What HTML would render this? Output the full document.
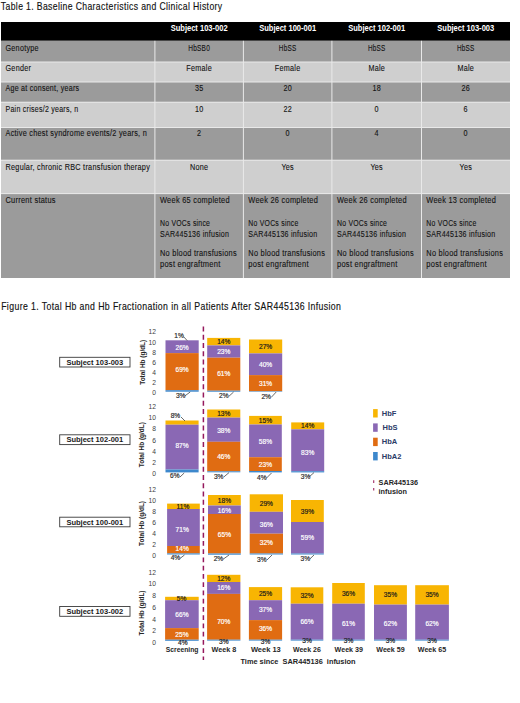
<!DOCTYPE html>
<html><head><meta charset="utf-8"><title>Table 1 and Figure 1</title>
<style>
html,body{margin:0;padding:0;background:#fff;}
body{width:520px;height:703px;overflow:hidden;position:relative;}
svg{position:absolute;left:0;top:0;display:block;font-family:"Liberation Sans", sans-serif;}
</style></head>
<body>
<svg width="520" height="703" viewBox="0 0 520 703">
<text x="0.8" y="9.8" font-size="10.3" fill="#111" text-anchor="start" font-weight="normal" textLength="221.7" lengthAdjust="spacingAndGlyphs" stroke="#111" stroke-width="0.15" letter-spacing="0.45">Table 1. Baseline Characteristics and Clinical History</text>
<text x="1.15" y="310.2" font-size="10.1" fill="#111" text-anchor="start" font-weight="normal" textLength="340.2" lengthAdjust="spacingAndGlyphs" stroke="#111" stroke-width="0.15" letter-spacing="0.45">Figure 1. Total Hb and Hb Fractionation in all Patients After SAR445136 Infusion</text>
<rect x="1.0" y="22" width="509.0" height="18.8" fill="#000"/>
<rect x="1.0" y="40.8" width="509.0" height="21.200000000000003" fill="#9b9b9b"/>
<rect x="1.0" y="62.0" width="509.0" height="20.0" fill="#cfcfcf"/>
<rect x="1.0" y="82.0" width="509.0" height="20.200000000000003" fill="#9b9b9b"/>
<rect x="1.0" y="102.2" width="509.0" height="25.299999999999997" fill="#cfcfcf"/>
<rect x="1.0" y="127.5" width="509.0" height="32.69999999999999" fill="#9b9b9b"/>
<rect x="1.0" y="160.2" width="509.0" height="33.400000000000006" fill="#cfcfcf"/>
<rect x="1.0" y="193.6" width="509.0" height="84.4" fill="#9b9b9b"/>
<rect x="1.0" y="61.5" width="509.0" height="1" fill="#e9e9e9"/>
<rect x="1.0" y="81.5" width="509.0" height="1" fill="#e9e9e9"/>
<rect x="1.0" y="101.7" width="509.0" height="1" fill="#e9e9e9"/>
<rect x="1.0" y="127.0" width="509.0" height="1" fill="#e9e9e9"/>
<rect x="1.0" y="159.7" width="509.0" height="1" fill="#e9e9e9"/>
<rect x="1.0" y="193.1" width="509.0" height="1" fill="#e9e9e9"/>
<rect x="154.4" y="40.8" width="1" height="237.2" fill="#e9e9e9"/>
<rect x="242.9" y="40.8" width="1" height="237.2" fill="#e9e9e9"/>
<rect x="331.4" y="40.8" width="1" height="237.2" fill="#e9e9e9"/>
<rect x="421.0" y="40.8" width="1" height="237.2" fill="#e9e9e9"/>
<text x="199.15" y="30.8" font-size="8.3" fill="#ffffff" text-anchor="middle" font-weight="bold" textLength="56.9" lengthAdjust="spacingAndGlyphs">Subject 103-002</text>
<text x="287.65" y="30.8" font-size="8.3" fill="#ffffff" text-anchor="middle" font-weight="bold" textLength="56.9" lengthAdjust="spacingAndGlyphs">Subject 100-001</text>
<text x="376.7" y="30.8" font-size="8.3" fill="#ffffff" text-anchor="middle" font-weight="bold" textLength="56.9" lengthAdjust="spacingAndGlyphs">Subject 102-001</text>
<text x="465.75" y="30.8" font-size="8.3" fill="#ffffff" text-anchor="middle" font-weight="bold" textLength="56.9" lengthAdjust="spacingAndGlyphs">Subject 103-003</text>
<text x="5.5" y="50.5" font-size="8.3" fill="#141414" text-anchor="start" font-weight="normal" textLength="33.29" lengthAdjust="spacingAndGlyphs" stroke="#141414" stroke-width="0.12" letter-spacing="0.3">Genotype</text>
<text x="5.5" y="70.7" font-size="8.3" fill="#141414" text-anchor="start" font-weight="normal" textLength="25.61" lengthAdjust="spacingAndGlyphs" stroke="#141414" stroke-width="0.12" letter-spacing="0.3">Gender</text>
<text x="5.5" y="90.7" font-size="8.3" fill="#141414" text-anchor="start" font-weight="normal" textLength="73.8" lengthAdjust="spacingAndGlyphs" stroke="#141414" stroke-width="0.12" letter-spacing="0.3">Age at consent, years</text>
<text x="5.5" y="111.5" font-size="8.3" fill="#141414" text-anchor="start" font-weight="normal" textLength="72.8" lengthAdjust="spacingAndGlyphs" stroke="#141414" stroke-width="0.12" letter-spacing="0.3">Pain crises/2 years, n</text>
<text x="5.5" y="136.2" font-size="8.3" fill="#141414" text-anchor="start" font-weight="normal" textLength="141.5" lengthAdjust="spacingAndGlyphs" stroke="#141414" stroke-width="0.12" letter-spacing="0.3">Active chest syndrome events/2 years, n</text>
<text x="5.5" y="169.7" font-size="8.3" fill="#141414" text-anchor="start" font-weight="normal" textLength="144.6" lengthAdjust="spacingAndGlyphs" stroke="#141414" stroke-width="0.12" letter-spacing="0.3">Regular, chronic RBC transfusion therapy</text>
<text x="5.5" y="203.0" font-size="8.3" fill="#141414" text-anchor="start" font-weight="normal" textLength="50.3" lengthAdjust="spacingAndGlyphs" stroke="#141414" stroke-width="0.12" letter-spacing="0.3">Current status</text>
<text x="199.15" y="50.5" font-size="8.3" fill="#141414" text-anchor="middle" font-weight="normal" textLength="21.8" lengthAdjust="spacingAndGlyphs" stroke="#141414" stroke-width="0.12" letter-spacing="0.3">HbSB0</text>
<text x="287.65" y="50.5" font-size="8.3" fill="#141414" text-anchor="middle" font-weight="normal" textLength="17.6" lengthAdjust="spacingAndGlyphs" stroke="#141414" stroke-width="0.12" letter-spacing="0.3">HbSS</text>
<text x="376.7" y="50.5" font-size="8.3" fill="#141414" text-anchor="middle" font-weight="normal" textLength="17.6" lengthAdjust="spacingAndGlyphs" stroke="#141414" stroke-width="0.12" letter-spacing="0.3">HbSS</text>
<text x="465.75" y="50.5" font-size="8.3" fill="#141414" text-anchor="middle" font-weight="normal" textLength="17.6" lengthAdjust="spacingAndGlyphs" stroke="#141414" stroke-width="0.12" letter-spacing="0.3">HbSS</text>
<text x="199.15" y="70.7" font-size="8.3" fill="#141414" text-anchor="middle" font-weight="normal" textLength="25.6" lengthAdjust="spacingAndGlyphs" stroke="#141414" stroke-width="0.12" letter-spacing="0.3">Female</text>
<text x="287.65" y="70.7" font-size="8.3" fill="#141414" text-anchor="middle" font-weight="normal" textLength="25.6" lengthAdjust="spacingAndGlyphs" stroke="#141414" stroke-width="0.12" letter-spacing="0.3">Female</text>
<text x="376.7" y="70.7" font-size="8.3" fill="#141414" text-anchor="middle" font-weight="normal" textLength="16.64" lengthAdjust="spacingAndGlyphs" stroke="#141414" stroke-width="0.12" letter-spacing="0.3">Male</text>
<text x="465.75" y="70.7" font-size="8.3" fill="#141414" text-anchor="middle" font-weight="normal" textLength="16.64" lengthAdjust="spacingAndGlyphs" stroke="#141414" stroke-width="0.12" letter-spacing="0.3">Male</text>
<text x="199.15" y="90.7" font-size="8.3" fill="#141414" text-anchor="middle" font-weight="normal" textLength="8.54" lengthAdjust="spacingAndGlyphs" stroke="#141414" stroke-width="0.12" letter-spacing="0.3">35</text>
<text x="287.65" y="90.7" font-size="8.3" fill="#141414" text-anchor="middle" font-weight="normal" textLength="8.54" lengthAdjust="spacingAndGlyphs" stroke="#141414" stroke-width="0.12" letter-spacing="0.3">20</text>
<text x="376.7" y="90.7" font-size="8.3" fill="#141414" text-anchor="middle" font-weight="normal" textLength="8.54" lengthAdjust="spacingAndGlyphs" stroke="#141414" stroke-width="0.12" letter-spacing="0.3">18</text>
<text x="465.75" y="90.7" font-size="8.3" fill="#141414" text-anchor="middle" font-weight="normal" textLength="8.54" lengthAdjust="spacingAndGlyphs" stroke="#141414" stroke-width="0.12" letter-spacing="0.3">26</text>
<text x="199.15" y="111.5" font-size="8.3" fill="#141414" text-anchor="middle" font-weight="normal" textLength="8.54" lengthAdjust="spacingAndGlyphs" stroke="#141414" stroke-width="0.12" letter-spacing="0.3">10</text>
<text x="287.65" y="111.5" font-size="8.3" fill="#141414" text-anchor="middle" font-weight="normal" textLength="8.54" lengthAdjust="spacingAndGlyphs" stroke="#141414" stroke-width="0.12" letter-spacing="0.3">22</text>
<text x="376.7" y="111.5" font-size="8.3" fill="#141414" text-anchor="middle" font-weight="normal" textLength="4.27" lengthAdjust="spacingAndGlyphs" stroke="#141414" stroke-width="0.12" letter-spacing="0.3">0</text>
<text x="465.75" y="111.5" font-size="8.3" fill="#141414" text-anchor="middle" font-weight="normal" textLength="4.27" lengthAdjust="spacingAndGlyphs" stroke="#141414" stroke-width="0.12" letter-spacing="0.3">6</text>
<text x="199.15" y="136.2" font-size="8.3" fill="#141414" text-anchor="middle" font-weight="normal" textLength="4.27" lengthAdjust="spacingAndGlyphs" stroke="#141414" stroke-width="0.12" letter-spacing="0.3">2</text>
<text x="287.65" y="136.2" font-size="8.3" fill="#141414" text-anchor="middle" font-weight="normal" textLength="4.27" lengthAdjust="spacingAndGlyphs" stroke="#141414" stroke-width="0.12" letter-spacing="0.3">0</text>
<text x="376.7" y="136.2" font-size="8.3" fill="#141414" text-anchor="middle" font-weight="normal" textLength="4.27" lengthAdjust="spacingAndGlyphs" stroke="#141414" stroke-width="0.12" letter-spacing="0.3">4</text>
<text x="465.75" y="136.2" font-size="8.3" fill="#141414" text-anchor="middle" font-weight="normal" textLength="4.27" lengthAdjust="spacingAndGlyphs" stroke="#141414" stroke-width="0.12" letter-spacing="0.3">0</text>
<text x="199.15" y="169.7" font-size="8.3" fill="#141414" text-anchor="middle" font-weight="normal" textLength="18.35" lengthAdjust="spacingAndGlyphs" stroke="#141414" stroke-width="0.12" letter-spacing="0.3">None</text>
<text x="287.65" y="169.7" font-size="8.3" fill="#141414" text-anchor="middle" font-weight="normal" textLength="12.53" lengthAdjust="spacingAndGlyphs" stroke="#141414" stroke-width="0.12" letter-spacing="0.3">Yes</text>
<text x="376.7" y="169.7" font-size="8.3" fill="#141414" text-anchor="middle" font-weight="normal" textLength="12.53" lengthAdjust="spacingAndGlyphs" stroke="#141414" stroke-width="0.12" letter-spacing="0.3">Yes</text>
<text x="465.75" y="169.7" font-size="8.3" fill="#141414" text-anchor="middle" font-weight="normal" textLength="12.53" lengthAdjust="spacingAndGlyphs" stroke="#141414" stroke-width="0.12" letter-spacing="0.3">Yes</text>
<text x="160.0" y="203.0" font-size="8.3" fill="#141414" text-anchor="start" font-weight="normal" textLength="69.8" lengthAdjust="spacingAndGlyphs" stroke="#141414" stroke-width="0.12" letter-spacing="0.3">Week 65 completed</text>
<text x="160.0" y="226.2" font-size="8.3" fill="#141414" text-anchor="start" font-weight="normal" textLength="50.2" lengthAdjust="spacingAndGlyphs" stroke="#141414" stroke-width="0.12" letter-spacing="0.3">No VOCs since</text>
<text x="160.0" y="236.7" font-size="8.3" fill="#141414" text-anchor="start" font-weight="normal" textLength="69.2" lengthAdjust="spacingAndGlyphs" stroke="#141414" stroke-width="0.12" letter-spacing="0.3">SAR445136 infusion</text>
<text x="160.0" y="256.4" font-size="8.3" fill="#141414" text-anchor="start" font-weight="normal" textLength="76.9" lengthAdjust="spacingAndGlyphs" stroke="#141414" stroke-width="0.12" letter-spacing="0.3">No blood transfusions</text>
<text x="160.0" y="266.9" font-size="8.3" fill="#141414" text-anchor="start" font-weight="normal" textLength="60.5" lengthAdjust="spacingAndGlyphs" stroke="#141414" stroke-width="0.12" letter-spacing="0.3">post engraftment</text>
<text x="248.3" y="203.0" font-size="8.3" fill="#141414" text-anchor="start" font-weight="normal" textLength="69.8" lengthAdjust="spacingAndGlyphs" stroke="#141414" stroke-width="0.12" letter-spacing="0.3">Week 26 completed</text>
<text x="248.3" y="226.2" font-size="8.3" fill="#141414" text-anchor="start" font-weight="normal" textLength="50.2" lengthAdjust="spacingAndGlyphs" stroke="#141414" stroke-width="0.12" letter-spacing="0.3">No VOCs since</text>
<text x="248.3" y="236.7" font-size="8.3" fill="#141414" text-anchor="start" font-weight="normal" textLength="69.2" lengthAdjust="spacingAndGlyphs" stroke="#141414" stroke-width="0.12" letter-spacing="0.3">SAR445136 infusion</text>
<text x="248.3" y="256.4" font-size="8.3" fill="#141414" text-anchor="start" font-weight="normal" textLength="76.9" lengthAdjust="spacingAndGlyphs" stroke="#141414" stroke-width="0.12" letter-spacing="0.3">No blood transfusions</text>
<text x="248.3" y="266.9" font-size="8.3" fill="#141414" text-anchor="start" font-weight="normal" textLength="60.5" lengthAdjust="spacingAndGlyphs" stroke="#141414" stroke-width="0.12" letter-spacing="0.3">post engraftment</text>
<text x="337.0" y="203.0" font-size="8.3" fill="#141414" text-anchor="start" font-weight="normal" textLength="69.8" lengthAdjust="spacingAndGlyphs" stroke="#141414" stroke-width="0.12" letter-spacing="0.3">Week 26 completed</text>
<text x="337.0" y="226.2" font-size="8.3" fill="#141414" text-anchor="start" font-weight="normal" textLength="50.2" lengthAdjust="spacingAndGlyphs" stroke="#141414" stroke-width="0.12" letter-spacing="0.3">No VOCs since</text>
<text x="337.0" y="236.7" font-size="8.3" fill="#141414" text-anchor="start" font-weight="normal" textLength="69.2" lengthAdjust="spacingAndGlyphs" stroke="#141414" stroke-width="0.12" letter-spacing="0.3">SAR445136 infusion</text>
<text x="337.0" y="256.4" font-size="8.3" fill="#141414" text-anchor="start" font-weight="normal" textLength="76.9" lengthAdjust="spacingAndGlyphs" stroke="#141414" stroke-width="0.12" letter-spacing="0.3">No blood transfusions</text>
<text x="337.0" y="266.9" font-size="8.3" fill="#141414" text-anchor="start" font-weight="normal" textLength="60.5" lengthAdjust="spacingAndGlyphs" stroke="#141414" stroke-width="0.12" letter-spacing="0.3">post engraftment</text>
<text x="426.3" y="203.0" font-size="8.3" fill="#141414" text-anchor="start" font-weight="normal" textLength="69.8" lengthAdjust="spacingAndGlyphs" stroke="#141414" stroke-width="0.12" letter-spacing="0.3">Week 13 completed</text>
<text x="426.3" y="226.2" font-size="8.3" fill="#141414" text-anchor="start" font-weight="normal" textLength="50.2" lengthAdjust="spacingAndGlyphs" stroke="#141414" stroke-width="0.12" letter-spacing="0.3">No VOCs since</text>
<text x="426.3" y="236.7" font-size="8.3" fill="#141414" text-anchor="start" font-weight="normal" textLength="69.2" lengthAdjust="spacingAndGlyphs" stroke="#141414" stroke-width="0.12" letter-spacing="0.3">SAR445136 infusion</text>
<text x="426.3" y="256.4" font-size="8.3" fill="#141414" text-anchor="start" font-weight="normal" textLength="76.9" lengthAdjust="spacingAndGlyphs" stroke="#141414" stroke-width="0.12" letter-spacing="0.3">No blood transfusions</text>
<text x="426.3" y="266.9" font-size="8.3" fill="#141414" text-anchor="start" font-weight="normal" textLength="60.5" lengthAdjust="spacingAndGlyphs" stroke="#141414" stroke-width="0.12" letter-spacing="0.3">post engraftment</text>
<line x1="203.4" y1="326.6" x2="203.4" y2="660" stroke="#95185c" stroke-width="1.5" stroke-dasharray="4.9 3.345"/>
<text x="156.0" y="334.4" font-size="6.7" fill="#404040" text-anchor="end" font-weight="normal">12</text>
<text x="156.0" y="344.53" font-size="6.7" fill="#404040" text-anchor="end" font-weight="normal">10</text>
<text x="156.0" y="354.66" font-size="6.7" fill="#404040" text-anchor="end" font-weight="normal">8</text>
<text x="156.0" y="364.79" font-size="6.7" fill="#404040" text-anchor="end" font-weight="normal">6</text>
<text x="156.0" y="374.92" font-size="6.7" fill="#404040" text-anchor="end" font-weight="normal">4</text>
<text x="156.0" y="385.05" font-size="6.7" fill="#404040" text-anchor="end" font-weight="normal">2</text>
<text x="156.0" y="395.18" font-size="6.7" fill="#404040" text-anchor="end" font-weight="normal">0</text>
<text x="0" y="0" font-size="6.3" font-weight="bold" fill="#262626" text-anchor="middle" transform="translate(145.29999999999998,362.3) rotate(-90)" textLength="45" lengthAdjust="spacingAndGlyphs">Total Hb (g/dL)</text>
<rect x="59.7" y="357.3" width="70.3" height="9.699999999999989" fill="#fff" stroke="#3a3a3a" stroke-width="0.9"/>
<text x="94.8" y="364.85" font-size="7.8" fill="#1a1a1a" text-anchor="middle" font-weight="bold" textLength="56.8" lengthAdjust="spacingAndGlyphs">Subject 103-003</text>
<text x="156.0" y="409.3" font-size="6.7" fill="#404040" text-anchor="end" font-weight="normal">12</text>
<text x="156.0" y="420.38" font-size="6.7" fill="#404040" text-anchor="end" font-weight="normal">10</text>
<text x="156.0" y="431.46" font-size="6.7" fill="#404040" text-anchor="end" font-weight="normal">8</text>
<text x="156.0" y="442.54" font-size="6.7" fill="#404040" text-anchor="end" font-weight="normal">6</text>
<text x="156.0" y="453.62" font-size="6.7" fill="#404040" text-anchor="end" font-weight="normal">4</text>
<text x="156.0" y="464.7" font-size="6.7" fill="#404040" text-anchor="end" font-weight="normal">2</text>
<text x="156.0" y="475.78" font-size="6.7" fill="#404040" text-anchor="end" font-weight="normal">0</text>
<text x="0" y="0" font-size="6.3" font-weight="bold" fill="#262626" text-anchor="middle" transform="translate(143.6,444.7) rotate(-90)" textLength="45" lengthAdjust="spacingAndGlyphs">Total Hb (g/dL)</text>
<rect x="59.7" y="434.8" width="70.3" height="9.800000000000011" fill="#fff" stroke="#3a3a3a" stroke-width="0.9"/>
<text x="94.8" y="442.4" font-size="7.8" fill="#1a1a1a" text-anchor="middle" font-weight="bold" textLength="56.8" lengthAdjust="spacingAndGlyphs">Subject 102-001</text>
<text x="156.0" y="492.1" font-size="6.7" fill="#404040" text-anchor="end" font-weight="normal">12</text>
<text x="156.0" y="503.1" font-size="6.7" fill="#404040" text-anchor="end" font-weight="normal">10</text>
<text x="156.0" y="514.1" font-size="6.7" fill="#404040" text-anchor="end" font-weight="normal">8</text>
<text x="156.0" y="525.1" font-size="6.7" fill="#404040" text-anchor="end" font-weight="normal">6</text>
<text x="156.0" y="536.1" font-size="6.7" fill="#404040" text-anchor="end" font-weight="normal">4</text>
<text x="156.0" y="547.1" font-size="6.7" fill="#404040" text-anchor="end" font-weight="normal">2</text>
<text x="156.0" y="558.1" font-size="6.7" fill="#404040" text-anchor="end" font-weight="normal">0</text>
<text x="0" y="0" font-size="6.3" font-weight="bold" fill="#262626" text-anchor="middle" transform="translate(144.1,523.5) rotate(-90)" textLength="45" lengthAdjust="spacingAndGlyphs">Total Hb (g/dL)</text>
<rect x="59.7" y="517.2" width="70.3" height="9.599999999999909" fill="#fff" stroke="#3a3a3a" stroke-width="0.9"/>
<text x="94.8" y="524.7" font-size="7.8" fill="#1a1a1a" text-anchor="middle" font-weight="bold" textLength="56.8" lengthAdjust="spacingAndGlyphs">Subject 100-001</text>
<text x="156.0" y="574.7" font-size="6.7" fill="#404040" text-anchor="end" font-weight="normal">12</text>
<text x="156.0" y="586.4" font-size="6.7" fill="#404040" text-anchor="end" font-weight="normal">10</text>
<text x="156.0" y="598.1" font-size="6.7" fill="#404040" text-anchor="end" font-weight="normal">8</text>
<text x="156.0" y="609.8" font-size="6.7" fill="#404040" text-anchor="end" font-weight="normal">6</text>
<text x="156.0" y="621.5" font-size="6.7" fill="#404040" text-anchor="end" font-weight="normal">4</text>
<text x="156.0" y="633.2" font-size="6.7" fill="#404040" text-anchor="end" font-weight="normal">2</text>
<text x="156.0" y="644.9" font-size="6.7" fill="#404040" text-anchor="end" font-weight="normal">0</text>
<text x="0" y="0" font-size="6.3" font-weight="bold" fill="#262626" text-anchor="middle" transform="translate(143.6,613.0) rotate(-90)" textLength="45" lengthAdjust="spacingAndGlyphs">Total Hb (g/dL)</text>
<rect x="59.7" y="606.5" width="70.3" height="9.799999999999955" fill="#fff" stroke="#3a3a3a" stroke-width="0.9"/>
<text x="94.8" y="614.1" font-size="7.8" fill="#1a1a1a" text-anchor="middle" font-weight="bold" textLength="56.8" lengthAdjust="spacingAndGlyphs">Subject 103-002</text>
<rect x="165.5" y="340.3" width="33.2" height="12.8" fill="#8a68b4"/>
<rect x="165.5" y="353.1" width="33.2" height="37.1" fill="#e06c12"/>
<rect x="165.5" y="390.2" width="33.2" height="1.5" fill="#3d88cc"/>
<text x="182.1" y="349.8" font-size="6.6" fill="#ffffff" text-anchor="middle" font-weight="normal" stroke="#ffffff" stroke-width="0.18">26%</text>
<text x="182.1" y="372.3" font-size="6.6" fill="#ffffff" text-anchor="middle" font-weight="normal" stroke="#ffffff" stroke-width="0.18">69%</text>
<text x="174.3" y="337.5" font-size="6.6" fill="#2a2a2a" text-anchor="start" font-weight="normal" stroke="#2a2a2a" stroke-width="0.18">1%</text>
<line x1="183.6" y1="336.7" x2="187.2" y2="340.6" stroke="#3a3a3a" stroke-width="0.75"/>
<text x="175.9" y="397.9" font-size="6.6" fill="#2a2a2a" text-anchor="start" font-weight="normal" stroke="#2a2a2a" stroke-width="0.18">3%</text>
<line x1="184.6" y1="396.1" x2="190.2" y2="392.0" stroke="#3a3a3a" stroke-width="0.75"/>
<rect x="207.2" y="337.9" width="33.1" height="7.5" fill="#f8b503"/>
<rect x="207.2" y="345.4" width="33.1" height="12.3" fill="#8a68b4"/>
<rect x="207.2" y="357.7" width="33.1" height="33.0" fill="#e06c12"/>
<rect x="207.2" y="390.7" width="33.1" height="1.0" fill="#3d88cc"/>
<text x="223.75" y="343.6" font-size="6.6" fill="#1a1a1a" text-anchor="middle" font-weight="normal" stroke="#1a1a1a" stroke-width="0.18">14%</text>
<text x="223.75" y="354.3" font-size="6.6" fill="#ffffff" text-anchor="middle" font-weight="normal" stroke="#ffffff" stroke-width="0.18">23%</text>
<text x="223.75" y="376.4" font-size="6.6" fill="#ffffff" text-anchor="middle" font-weight="normal" stroke="#ffffff" stroke-width="0.18">61%</text>
<text x="219.0" y="397.9" font-size="6.6" fill="#2a2a2a" text-anchor="start" font-weight="normal" stroke="#2a2a2a" stroke-width="0.18">2%</text>
<line x1="228.8" y1="396.4" x2="233.6" y2="392.0" stroke="#3a3a3a" stroke-width="0.75"/>
<rect x="249.0" y="339.5" width="33.2" height="13.9" fill="#f8b503"/>
<rect x="249.0" y="353.4" width="33.2" height="21.7" fill="#8a68b4"/>
<rect x="249.0" y="375.1" width="33.2" height="16.1" fill="#e06c12"/>
<rect x="249.0" y="391.2" width="33.2" height="0.5" fill="#3d88cc"/>
<text x="265.6" y="349.2" font-size="6.6" fill="#1a1a1a" text-anchor="middle" font-weight="normal" stroke="#1a1a1a" stroke-width="0.18">27%</text>
<text x="265.6" y="367.3" font-size="6.6" fill="#ffffff" text-anchor="middle" font-weight="normal" stroke="#ffffff" stroke-width="0.18">40%</text>
<text x="265.6" y="385.7" font-size="6.6" fill="#ffffff" text-anchor="middle" font-weight="normal" stroke="#ffffff" stroke-width="0.18">31%</text>
<text x="261.4" y="399.2" font-size="6.6" fill="#2a2a2a" text-anchor="start" font-weight="normal" stroke="#2a2a2a" stroke-width="0.18">2%</text>
<line x1="271.2" y1="397.4" x2="276.2" y2="392.0" stroke="#3a3a3a" stroke-width="0.75"/>
<rect x="165.5" y="420.5" width="33.1" height="4.2" fill="#f8b503"/>
<rect x="165.5" y="424.7" width="33.1" height="44.8" fill="#8a68b4"/>
<rect x="165.5" y="469.5" width="33.1" height="2.9" fill="#3d88cc"/>
<text x="182.05" y="447.8" font-size="6.6" fill="#ffffff" text-anchor="middle" font-weight="normal" stroke="#ffffff" stroke-width="0.18">87%</text>
<text x="170.7" y="418.0" font-size="6.6" fill="#2a2a2a" text-anchor="start" font-weight="normal" stroke="#2a2a2a" stroke-width="0.18">8%</text>
<line x1="181.0" y1="417.0" x2="185.0" y2="421.0" stroke="#3a3a3a" stroke-width="0.75"/>
<text x="170.0" y="478.2" font-size="6.6" fill="#2a2a2a" text-anchor="start" font-weight="normal" stroke="#2a2a2a" stroke-width="0.18">6%</text>
<line x1="180.0" y1="477.0" x2="184.2" y2="473.0" stroke="#3a3a3a" stroke-width="0.75"/>
<rect x="207.2" y="409.5" width="33.1" height="8.1" fill="#f8b503"/>
<rect x="207.2" y="417.6" width="33.1" height="24.2" fill="#8a68b4"/>
<rect x="207.2" y="441.8" width="33.1" height="29.5" fill="#e06c12"/>
<rect x="207.2" y="471.3" width="33.1" height="1.0" fill="#3d88cc"/>
<text x="223.75" y="415.8" font-size="6.6" fill="#1a1a1a" text-anchor="middle" font-weight="normal" stroke="#1a1a1a" stroke-width="0.18">13%</text>
<text x="223.75" y="432.9" font-size="6.6" fill="#ffffff" text-anchor="middle" font-weight="normal" stroke="#ffffff" stroke-width="0.18">38%</text>
<text x="223.75" y="458.5" font-size="6.6" fill="#ffffff" text-anchor="middle" font-weight="normal" stroke="#ffffff" stroke-width="0.18">46%</text>
<text x="213.9" y="478.7" font-size="6.6" fill="#2a2a2a" text-anchor="start" font-weight="normal" stroke="#2a2a2a" stroke-width="0.18">3%</text>
<line x1="223.8" y1="477.0" x2="229.0" y2="472.6" stroke="#3a3a3a" stroke-width="0.75"/>
<rect x="249.1" y="415.9" width="32.7" height="8.6" fill="#f8b503"/>
<rect x="249.1" y="424.5" width="32.7" height="32.7" fill="#8a68b4"/>
<rect x="249.1" y="457.2" width="32.7" height="13.8" fill="#e06c12"/>
<rect x="249.1" y="471.0" width="32.7" height="1.4" fill="#3d88cc"/>
<text x="265.45" y="422.8" font-size="6.6" fill="#1a1a1a" text-anchor="middle" font-weight="normal" stroke="#1a1a1a" stroke-width="0.18">15%</text>
<text x="265.45" y="444.1" font-size="6.6" fill="#ffffff" text-anchor="middle" font-weight="normal" stroke="#ffffff" stroke-width="0.18">58%</text>
<text x="265.45" y="466.5" font-size="6.6" fill="#ffffff" text-anchor="middle" font-weight="normal" stroke="#ffffff" stroke-width="0.18">23%</text>
<text x="257.0" y="480.3" font-size="6.6" fill="#2a2a2a" text-anchor="start" font-weight="normal" stroke="#2a2a2a" stroke-width="0.18">4%</text>
<line x1="266.2" y1="478.4" x2="271.5" y2="473.0" stroke="#3a3a3a" stroke-width="0.75"/>
<rect x="291.2" y="422.4" width="33.0" height="6.9" fill="#f8b503"/>
<rect x="291.2" y="429.3" width="33.0" height="41.9" fill="#8a68b4"/>
<rect x="291.2" y="471.2" width="33.0" height="1.2" fill="#3d88cc"/>
<text x="307.7" y="428.1" font-size="6.6" fill="#1a1a1a" text-anchor="middle" font-weight="normal" stroke="#1a1a1a" stroke-width="0.18">14%</text>
<text x="307.7" y="455.3" font-size="6.6" fill="#ffffff" text-anchor="middle" font-weight="normal" stroke="#ffffff" stroke-width="0.18">83%</text>
<text x="300.8" y="478.5" font-size="6.6" fill="#2a2a2a" text-anchor="start" font-weight="normal" stroke="#2a2a2a" stroke-width="0.18">3%</text>
<line x1="309.0" y1="477.0" x2="314.0" y2="472.6" stroke="#3a3a3a" stroke-width="0.75"/>
<rect x="167.1" y="503.6" width="32.7" height="5.4" fill="#f8b503"/>
<rect x="167.1" y="509.0" width="32.7" height="37.0" fill="#8a68b4"/>
<rect x="167.1" y="546.0" width="32.7" height="7.4" fill="#e06c12"/>
<rect x="167.1" y="553.4" width="32.7" height="1.1" fill="#3d88cc"/>
<text x="182.9" y="508.8" font-size="6.6" fill="#1a1a1a" text-anchor="middle" font-weight="normal" stroke="#1a1a1a" stroke-width="0.18">11%</text>
<text x="182.2" y="531.5" font-size="6.6" fill="#ffffff" text-anchor="middle" font-weight="normal" stroke="#ffffff" stroke-width="0.18">71%</text>
<text x="182.2" y="550.7" font-size="6.6" fill="#ffffff" text-anchor="middle" font-weight="normal" stroke="#ffffff" stroke-width="0.18">14%</text>
<text x="170.7" y="559.9" font-size="6.6" fill="#2a2a2a" text-anchor="start" font-weight="normal" stroke="#2a2a2a" stroke-width="0.18">4%</text>
<line x1="179.8" y1="558.6" x2="184.5" y2="555.0" stroke="#3a3a3a" stroke-width="0.75"/>
<rect x="208.0" y="495.0" width="32.8" height="10.5" fill="#f8b503"/>
<rect x="208.0" y="505.5" width="32.8" height="8.5" fill="#8a68b4"/>
<rect x="208.0" y="514.0" width="32.8" height="39.5" fill="#e06c12"/>
<rect x="208.0" y="553.5" width="32.8" height="1.2" fill="#3d88cc"/>
<text x="224.4" y="502.7" font-size="6.6" fill="#1a1a1a" text-anchor="middle" font-weight="normal" stroke="#1a1a1a" stroke-width="0.18">18%</text>
<text x="224.4" y="512.9" font-size="6.6" fill="#ffffff" text-anchor="middle" font-weight="normal" stroke="#ffffff" stroke-width="0.18">16%</text>
<text x="224.4" y="536.8" font-size="6.6" fill="#ffffff" text-anchor="middle" font-weight="normal" stroke="#ffffff" stroke-width="0.18">65%</text>
<text x="213.7" y="561.1" font-size="6.6" fill="#2a2a2a" text-anchor="start" font-weight="normal" stroke="#2a2a2a" stroke-width="0.18">2%</text>
<line x1="223.0" y1="559.3" x2="229.0" y2="555.0" stroke="#3a3a3a" stroke-width="0.75"/>
<rect x="249.7" y="494.3" width="33.3" height="17.5" fill="#f8b503"/>
<rect x="249.7" y="511.8" width="33.3" height="21.9" fill="#8a68b4"/>
<rect x="249.7" y="533.7" width="33.3" height="19.8" fill="#e06c12"/>
<rect x="249.7" y="553.5" width="33.3" height="1.0" fill="#3d88cc"/>
<text x="266.35" y="505.5" font-size="6.6" fill="#1a1a1a" text-anchor="middle" font-weight="normal" stroke="#1a1a1a" stroke-width="0.18">29%</text>
<text x="266.35" y="527.2" font-size="6.6" fill="#ffffff" text-anchor="middle" font-weight="normal" stroke="#ffffff" stroke-width="0.18">36%</text>
<text x="266.35" y="545.4" font-size="6.6" fill="#ffffff" text-anchor="middle" font-weight="normal" stroke="#ffffff" stroke-width="0.18">32%</text>
<text x="257.0" y="561.9" font-size="6.6" fill="#2a2a2a" text-anchor="start" font-weight="normal" stroke="#2a2a2a" stroke-width="0.18">3%</text>
<line x1="267.0" y1="560.0" x2="272.0" y2="555.0" stroke="#3a3a3a" stroke-width="0.75"/>
<rect x="291.0" y="500.0" width="32.8" height="22.0" fill="#f8b503"/>
<rect x="291.0" y="522.0" width="32.8" height="31.5" fill="#8a68b4"/>
<rect x="291.0" y="553.5" width="32.8" height="1.0" fill="#3d88cc"/>
<text x="307.4" y="514.1" font-size="6.6" fill="#1a1a1a" text-anchor="middle" font-weight="normal" stroke="#1a1a1a" stroke-width="0.18">39%</text>
<text x="307.4" y="539.7" font-size="6.6" fill="#ffffff" text-anchor="middle" font-weight="normal" stroke="#ffffff" stroke-width="0.18">59%</text>
<text x="300.5" y="561.1" font-size="6.6" fill="#2a2a2a" text-anchor="start" font-weight="normal" stroke="#2a2a2a" stroke-width="0.18">3%</text>
<line x1="309.8" y1="559.0" x2="314.0" y2="555.0" stroke="#3a3a3a" stroke-width="0.75"/>
<rect x="165.1" y="596.8" width="33.6" height="3.4" fill="#f8b503"/>
<rect x="165.1" y="600.2" width="33.6" height="27.9" fill="#8a68b4"/>
<rect x="165.1" y="628.1" width="33.6" height="11.6" fill="#e06c12"/>
<rect x="165.1" y="639.7" width="33.6" height="1.1" fill="#3d88cc"/>
<text x="181.9" y="616.7" font-size="6.6" fill="#ffffff" text-anchor="middle" font-weight="normal" stroke="#ffffff" stroke-width="0.18">66%</text>
<text x="181.9" y="637.2" font-size="6.6" fill="#ffffff" text-anchor="middle" font-weight="normal" stroke="#ffffff" stroke-width="0.18">25%</text>
<text x="181.6" y="600.7" font-size="6.6" fill="#1a1a1a" text-anchor="middle" font-weight="normal" stroke="#1a1a1a" stroke-width="0.18">5%</text>
<text x="182.8" y="644.7" font-size="6.6" fill="#1a1a1a" text-anchor="middle" font-weight="normal" stroke="#1a1a1a" stroke-width="0.18">4%</text>
<rect x="207.1" y="574.8" width="33.3" height="7.2" fill="#f8b503"/>
<rect x="207.1" y="582.0" width="33.3" height="11.9" fill="#8a68b4"/>
<rect x="207.1" y="593.9" width="33.3" height="45.8" fill="#e06c12"/>
<rect x="207.1" y="639.7" width="33.3" height="0.9" fill="#3d88cc"/>
<text x="223.75" y="580.5" font-size="6.6" fill="#1a1a1a" text-anchor="middle" font-weight="normal" stroke="#1a1a1a" stroke-width="0.18">12%</text>
<text x="223.75" y="590.2" font-size="6.6" fill="#ffffff" text-anchor="middle" font-weight="normal" stroke="#ffffff" stroke-width="0.18">16%</text>
<text x="223.75" y="623.6" font-size="6.6" fill="#ffffff" text-anchor="middle" font-weight="normal" stroke="#ffffff" stroke-width="0.18">70%</text>
<text x="223.75" y="643.5" font-size="6.6" fill="#1a1a1a" text-anchor="middle" font-weight="normal" stroke="#1a1a1a" stroke-width="0.18">3%</text>
<rect x="248.9" y="587.1" width="33.2" height="13.1" fill="#f8b503"/>
<rect x="248.9" y="600.2" width="33.2" height="19.9" fill="#8a68b4"/>
<rect x="248.9" y="620.1" width="33.2" height="19.6" fill="#e06c12"/>
<rect x="248.9" y="639.7" width="33.2" height="0.9" fill="#3d88cc"/>
<text x="265.5" y="595.6" font-size="6.6" fill="#1a1a1a" text-anchor="middle" font-weight="normal" stroke="#1a1a1a" stroke-width="0.18">25%</text>
<text x="265.5" y="611.6" font-size="6.6" fill="#ffffff" text-anchor="middle" font-weight="normal" stroke="#ffffff" stroke-width="0.18">37%</text>
<text x="265.5" y="631.0" font-size="6.6" fill="#ffffff" text-anchor="middle" font-weight="normal" stroke="#ffffff" stroke-width="0.18">36%</text>
<text x="265.5" y="643.9" font-size="6.6" fill="#1a1a1a" text-anchor="middle" font-weight="normal" stroke="#1a1a1a" stroke-width="0.18">3%</text>
<rect x="290.7" y="587.3" width="32.6" height="16.4" fill="#f8b503"/>
<rect x="290.7" y="603.7" width="32.6" height="36.0" fill="#8a68b4"/>
<rect x="290.7" y="639.7" width="32.6" height="0.9" fill="#3d88cc"/>
<text x="307.0" y="597.9" font-size="6.6" fill="#1a1a1a" text-anchor="middle" font-weight="normal" stroke="#1a1a1a" stroke-width="0.18">32%</text>
<text x="307.0" y="623.9" font-size="6.6" fill="#ffffff" text-anchor="middle" font-weight="normal" stroke="#ffffff" stroke-width="0.18">66%</text>
<text x="307.0" y="642.9" font-size="6.6" fill="#1a1a1a" text-anchor="middle" font-weight="normal" stroke="#1a1a1a" stroke-width="0.18">3%</text>
<rect x="332.2" y="583.0" width="32.6" height="20.7" fill="#f8b503"/>
<rect x="332.2" y="603.7" width="32.6" height="36.0" fill="#8a68b4"/>
<rect x="332.2" y="639.7" width="32.6" height="0.9" fill="#3d88cc"/>
<text x="348.5" y="595.7" font-size="6.6" fill="#1a1a1a" text-anchor="middle" font-weight="normal" stroke="#1a1a1a" stroke-width="0.18">36%</text>
<text x="348.5" y="625.9" font-size="6.6" fill="#ffffff" text-anchor="middle" font-weight="normal" stroke="#ffffff" stroke-width="0.18">61%</text>
<text x="348.5" y="642.9" font-size="6.6" fill="#1a1a1a" text-anchor="middle" font-weight="normal" stroke="#1a1a1a" stroke-width="0.18">3%</text>
<rect x="374.0" y="585.2" width="32.9" height="19.4" fill="#f8b503"/>
<rect x="374.0" y="604.6" width="32.9" height="35.1" fill="#8a68b4"/>
<rect x="374.0" y="639.7" width="32.9" height="0.9" fill="#3d88cc"/>
<text x="390.45" y="597.4" font-size="6.6" fill="#1a1a1a" text-anchor="middle" font-weight="normal" stroke="#1a1a1a" stroke-width="0.18">35%</text>
<text x="390.45" y="626.3" font-size="6.6" fill="#ffffff" text-anchor="middle" font-weight="normal" stroke="#ffffff" stroke-width="0.18">62%</text>
<text x="390.45" y="642.9" font-size="6.6" fill="#1a1a1a" text-anchor="middle" font-weight="normal" stroke="#1a1a1a" stroke-width="0.18">3%</text>
<rect x="415.2" y="585.2" width="33.7" height="19.4" fill="#f8b503"/>
<rect x="415.2" y="604.6" width="33.7" height="35.1" fill="#8a68b4"/>
<rect x="415.2" y="639.7" width="33.7" height="0.9" fill="#3d88cc"/>
<text x="432.05" y="597.4" font-size="6.6" fill="#1a1a1a" text-anchor="middle" font-weight="normal" stroke="#1a1a1a" stroke-width="0.18">35%</text>
<text x="432.05" y="626.3" font-size="6.6" fill="#ffffff" text-anchor="middle" font-weight="normal" stroke="#ffffff" stroke-width="0.18">62%</text>
<text x="432.05" y="642.9" font-size="6.6" fill="#1a1a1a" text-anchor="middle" font-weight="normal" stroke="#1a1a1a" stroke-width="0.18">3%</text>
<text x="182.15" y="652.4" font-size="7.4" fill="#262626" text-anchor="middle" font-weight="bold" textLength="32.7" lengthAdjust="spacingAndGlyphs">Screening</text>
<text x="223.85" y="652.4" font-size="7.4" fill="#262626" text-anchor="middle" font-weight="bold" textLength="24.7" lengthAdjust="spacingAndGlyphs">Week 8</text>
<text x="265.85" y="652.4" font-size="7.4" fill="#262626" text-anchor="middle" font-weight="bold" textLength="29.9" lengthAdjust="spacingAndGlyphs">Week 13</text>
<text x="306.9" y="652.4" font-size="7.4" fill="#262626" text-anchor="middle" font-weight="bold" textLength="27.8" lengthAdjust="spacingAndGlyphs">Week 26</text>
<text x="348.8" y="652.4" font-size="7.4" fill="#262626" text-anchor="middle" font-weight="bold" textLength="28.4" lengthAdjust="spacingAndGlyphs">Week 39</text>
<text x="390.5" y="652.4" font-size="7.4" fill="#262626" text-anchor="middle" font-weight="bold" textLength="28.4" lengthAdjust="spacingAndGlyphs">Week 59</text>
<text x="432.0" y="652.4" font-size="7.4" fill="#262626" text-anchor="middle" font-weight="bold" textLength="28.4" lengthAdjust="spacingAndGlyphs">Week 65</text>
<text x="240.5" y="664.0" font-size="7.9" font-weight="bold" fill="#262626" textLength="115" lengthAdjust="spacingAndGlyphs" xml:space="preserve">Time since  SAR445136  infusion</text>
<rect x="373.1" y="409.1" width="4.6" height="8.4" fill="#f8b503"/>
<text x="381.8" y="415.8" font-size="7.5" fill="#2b3a67" text-anchor="start" font-weight="bold">HbF</text>
<rect x="373.1" y="423.4" width="4.6" height="8.4" fill="#8a68b4"/>
<text x="382.6" y="430.1" font-size="7.5" fill="#2b3a67" text-anchor="start" font-weight="bold">HbS</text>
<rect x="373.1" y="437.7" width="4.6" height="8.4" fill="#e06c12"/>
<text x="381.8" y="444.4" font-size="7.5" fill="#2b3a67" text-anchor="start" font-weight="bold">HbA</text>
<rect x="373.1" y="452.0" width="4.6" height="8.4" fill="#3d88cc"/>
<text x="381.8" y="458.7" font-size="7.5" fill="#2b3a67" text-anchor="start" font-weight="bold">HbA2</text>
<line x1="373.7" y1="480.2" x2="373.7" y2="491" stroke="#a83a70" stroke-width="1.2" stroke-dasharray="2.7 5"/>
<text x="378.6" y="484.7" font-size="7.3" fill="#262626" text-anchor="start" font-weight="bold" textLength="39.4" lengthAdjust="spacingAndGlyphs">SAR445136</text>
<text x="378.6" y="493.6" font-size="7.3" fill="#262626" text-anchor="start" font-weight="bold">infusion</text>
</svg>
</body></html>
